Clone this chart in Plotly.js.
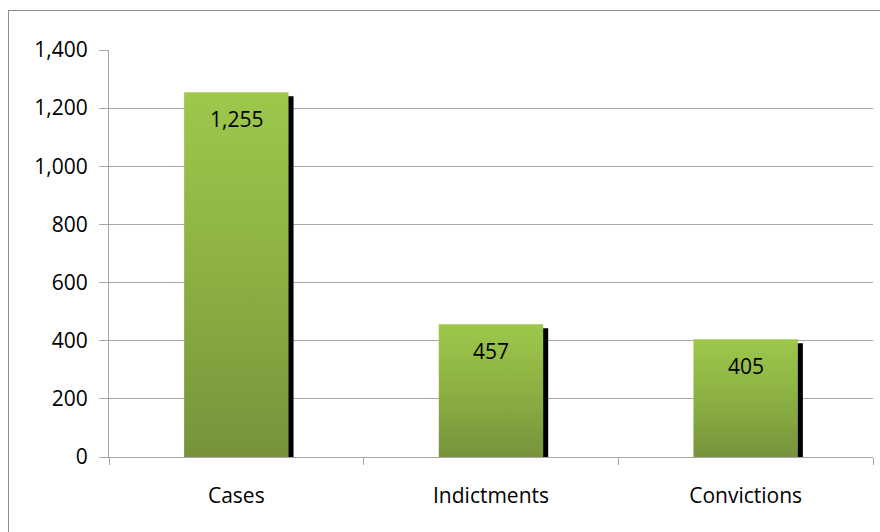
<!DOCTYPE html>
<html>
<head>
<meta charset="utf-8">
<script src="https://cdn.plot.ly/plotly-3.0.1.min.js"></script>
<style>
  html, body { margin: 0; padding: 0; background: #fff; overflow: hidden; }
  #chart { width: 880px; height: 532px; position: absolute; left: 0; top: 0; }
  #frame { position: absolute; left: 8px; top: 10px; width: 900px; height: 560px;
           border: 1px solid #8c8c8c; pointer-events: none; }
</style>
</head>
<body>
<div id="chart"></div>
<div id="frame"></div>
<script>
const categories = ["Cases", "Indictments", "Convictions"];
const values = [1255, 457, 405];
const tickValues = [0, 200, 400, 600, 800, 1000, 1200, 1400];
const tickLabels = ["0", "200", "400", "600", "800", "1,000", "1,200", "1,400"];
const valueLabels = ["1,255", "457", "405"];

const FONT = "'Open Sans', 'Liberation Sans', sans-serif";
const barWidth = 0.41;
const plotH = 407, yMax = 1400, catPx = 254.67;
const shadowDrop = 4 * yMax / plotH;   // 4px downward in data units
const shadowShift = 5 / catPx;          // 5px to the right in category units

const shadow = {
  type: "bar", x: categories, y: values.map(v => v - shadowDrop),
  width: barWidth, offset: -barWidth / 2 + shadowShift,
  marker: { color: "#000000", line: { width: 0 } },
  hoverinfo: "skip", showlegend: false
};
const bars = {
  type: "bar", x: categories, y: values,
  width: barWidth, offset: -barWidth / 2,
  marker: { color: "#8db144", line: { width: 0 } },
  showlegend: false
};

const annotations = categories.map((c, i) => ({
  x: c, y: values[i], xref: "x", yref: "y",
  text: valueLabels[i], showarrow: false,
  yanchor: "middle", yshift: -27,
  font: { family: FONT, size: 21, color: "#000" }
}));

const layout = {
  width: 880, height: 532,
  margin: { l: 109, r: 7, t: 50, b: 75 },
  paper_bgcolor: "#fff", plot_bgcolor: "#fff",
  barmode: "overlay",
  font: { family: FONT, size: 21, color: "#000" },
  xaxis: {
    type: "category", tickson: "boundaries", ticks: "outside", ticklen: 7,
    tickcolor: "#a6a6a6", showline: true, linecolor: "#a6a6a6", linewidth: 1,
    showgrid: false, ticklabelstandoff: 20,
    tickfont: { family: FONT, size: 21, color: "#000" }
  },
  yaxis: {
    range: [0, yMax], tickmode: "array", tickvals: tickValues, ticktext: tickLabels,
    ticks: "outside", ticklen: 9, tickcolor: "#a6a6a6",
    showline: true, linecolor: "#a6a6a6", linewidth: 1,
    showgrid: true, gridcolor: "#a6a6a6", gridwidth: 1,
    zeroline: false, ticklabelstandoff: 7,
    tickfont: { family: FONT, size: 21, color: "#000" }
  },
  annotations: annotations
};

Plotly.newPlot("chart", [shadow, bars], layout, { staticPlot: true, displayModeBar: false }).then(gd => {
  const svg = gd.querySelector("svg.main-svg");
  const ns = "http://www.w3.org/2000/svg";
  let defs = svg.querySelector("defs");
  if (!defs) { defs = document.createElementNS(ns, "defs"); svg.insertBefore(defs, svg.firstChild); }
  const grad = document.createElementNS(ns, "linearGradient");
  grad.setAttribute("id", "barGrad");
  grad.setAttribute("x1", "0"); grad.setAttribute("y1", "0");
  grad.setAttribute("x2", "0"); grad.setAttribute("y2", "1");
  [["0", "#9dc84b"], ["0.5", "#8cb043"], ["1", "#76933b"]].forEach(([o, c]) => {
    const s = document.createElementNS(ns, "stop");
    s.setAttribute("offset", o); s.setAttribute("stop-color", c);
    grad.appendChild(s);
  });
  defs.appendChild(grad);
  const traces = gd.querySelectorAll("g.trace.bars");
  const last = traces[traces.length - 1];
  last.querySelectorAll("g.point path").forEach(p => { p.style.fill = "url(#barGrad)"; });
});
</script>
</body>
</html>
